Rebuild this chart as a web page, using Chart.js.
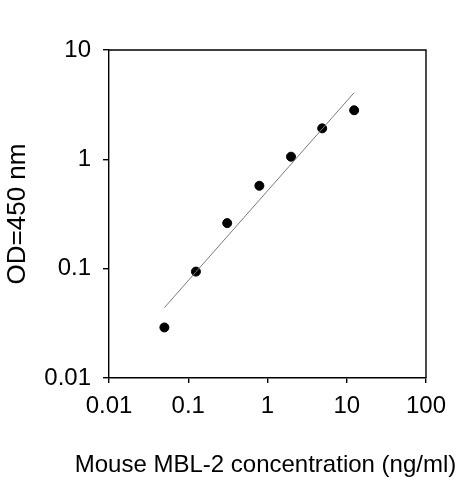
<!DOCTYPE html>
<html lang="en">
<head>
    <meta charset="UTF-8">
    <title>Mouse MBL-2 standard curve</title>
    <script src="https://cdn.jsdelivr.net/npm/chart.js"></script>
    <style>
        body { margin: 0; background: #fff; overflow: hidden; }
    </style>
</head>
<body>
    <canvas id="stdChart" width="463" height="480"></canvas>

    <script>
        // measured points
        var concentration = [0.05, 0.125, 0.31, 0.79, 1.98, 4.9, 12.4];
        var od450 = [0.029, 0.094, 0.261, 0.573, 1.057, 1.92, 2.81];

        // fitted line ends
        var fitX = [0.05, 12.4];
        var fitY = [0.044, 4.07];

        var xTicks = [0.01, 0.1, 1, 10, 100];
        var xTickLabels = ['0.01', '0.1', '1', '10', '100'];
        var yTicks = [0.01, 0.1, 1, 10];
        var yTickLabels = ['0.01', '0.1', '1', '10'];

        var xTitle = 'Mouse MBL-2 concentration (ng/ml)';
        var yTitle = 'OD=450 nm';

        Chart.defaults.font.family = "'Liberation Sans', Arial, sans-serif";
        Chart.defaults.font.size = 24;
        Chart.defaults.color = '#000';

        // top and right edges of the box, plus the x title
        // (the scale title would be squeezed to the plot width, this one is wider)
        var framePlugin = {
            id: 'frame',
            beforeDatasetsDraw: function(chart) {
                var a = chart.chartArea, ctx = chart.ctx;
                ctx.save();
                ctx.strokeStyle = '#000';
                ctx.lineWidth = 1.4;
                ctx.beginPath();
                ctx.moveTo(a.left, a.top);
                ctx.lineTo(a.right, a.top);
                ctx.lineTo(a.right, a.bottom);
                ctx.stroke();
                ctx.restore();
            },
            afterDraw: function(chart) {
                var a = chart.chartArea, ctx = chart.ctx;
                ctx.save();
                ctx.fillStyle = '#000';
                ctx.font = "24px 'Liberation Sans', Arial, sans-serif";
                ctx.textAlign = 'center';
                ctx.textBaseline = 'alphabetic';
                ctx.fillText(xTitle, (a.left + a.right) / 2 - 2, chart.height - 8.5);
                ctx.restore();
            }
        };

        function pairs(xs, ys) {
            return xs.map(function(x, i) { return { x: x, y: ys[i] }; });
        }

        var ctx = document.getElementById('stdChart').getContext('2d');
        var chart = new Chart(ctx, {
            type: 'scatter',
            data: {
                datasets: [{
                    type: 'line',
                    data: pairs(fitX, fitY),
                    borderColor: '#7a7a7a',
                    borderWidth: 1,
                    pointRadius: 0,
                    fill: false
                }, {
                    data: pairs(concentration, od450),
                    backgroundColor: '#000',
                    borderColor: '#000',
                    pointRadius: 4.5,
                    pointHoverRadius: 4.5
                }]
            },
            options: {
                responsive: false,
                animation: false,
                layout: { padding: { top: 50, right: 37, left: 0, bottom: 0 } },
                plugins: { legend: { display: false }, tooltip: { enabled: false } },
                scales: {
                    x: {
                        type: 'logarithmic',
                        min: 0.01,
                        max: 100,
                        afterFit: function(scale) { scale.height = 102; },
                        afterBuildTicks: function(scale) {
                            scale.ticks = xTicks.map(function(v) { return { value: v }; });
                        },
                        ticks: {
                            font: { size: 24 },
                            padding: 9,
                            maxRotation: 0,
                            autoSkip: false,
                            callback: function(v) { return xTickLabels[xTicks.indexOf(v)]; }
                        },
                        grid: { drawOnChartArea: false, drawTicks: true, tickLength: 5, color: '#000', lineWidth: 1.4 },
                        border: { display: true, color: '#000', width: 1.4 },
                        title: { display: false }
                    },
                    y: {
                        type: 'logarithmic',
                        min: 0.01,
                        max: 10,
                        afterFit: function(scale) { scale.width = 109; },
                        afterBuildTicks: function(scale) {
                            scale.ticks = yTicks.map(function(v) { return { value: v }; });
                        },
                        ticks: {
                            font: { size: 24 },
                            padding: 12,
                            autoSkip: false,
                            callback: function(v) { return yTickLabels[yTicks.indexOf(v)]; }
                        },
                        grid: { drawOnChartArea: false, drawTicks: true, tickLength: 6, color: '#000', lineWidth: 1.4 },
                        border: { display: true, color: '#000', width: 1.4 },
                        title: {
                            display: true,
                            text: yTitle,
                            font: { size: 26 },
                            padding: { top: 2, bottom: 0 }
                        }
                    }
                }
            },
            plugins: [framePlugin]
        });
    </script>
</body>
</html>
